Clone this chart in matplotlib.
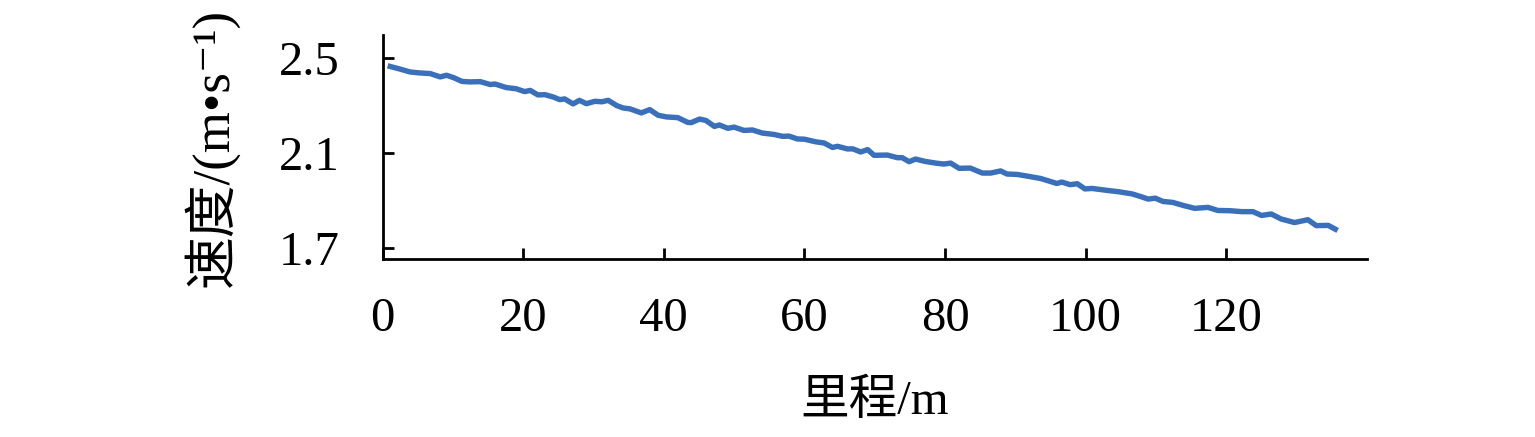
import matplotlib
matplotlib.use("Agg")
import matplotlib.pyplot as plt

# mileage (m) and speed (m/s)
mileage = [1.1, 2.5, 3.9, 5.2, 6.8, 8.2, 9.1, 10.1, 11.3, 12.4, 13.9, 15.3, 16.0,
           17.6, 19.0, 20.2, 21.0, 22.1, 23.1, 24.3, 25.2, 25.9, 27.1, 28.0, 29.0,
           30.2, 31.2, 32.1, 33.3, 34.2, 35.2, 36.8, 38.0, 39.2, 40.4, 42.0, 43.4,
           43.9, 45.1, 46.0, 47.2, 47.9, 49.1, 50.0, 51.4, 52.6, 54.0, 55.7, 56.9,
           57.8, 59.0, 60.0, 61.6, 62.8, 64.0, 64.7, 66.1, 66.9, 68.0, 69.0, 69.9,
           71.8, 73.2, 73.9, 74.9, 75.8, 77.2, 78.7, 79.8, 80.8, 82.0, 83.6, 85.3,
           86.5, 87.9, 88.8, 90.3, 91.9, 93.6, 94.7, 95.9, 96.6, 97.8, 98.8, 99.9,
           100.9, 103.0, 104.7, 106.6, 108.0, 108.9, 109.9, 111.0, 112.4, 113.9,
           115.5, 117.4, 118.8, 120.5, 122.2, 123.8, 125.0, 126.4, 127.8, 129.7,
           131.6, 132.8, 134.5, 135.5]
speed = [2.465, 2.454, 2.442, 2.438, 2.435, 2.421, 2.428, 2.418, 2.402, 2.400, 2.401,
         2.389, 2.391, 2.376, 2.371, 2.359, 2.364, 2.345, 2.346, 2.336, 2.325, 2.328,
         2.307, 2.322, 2.308, 2.318, 2.316, 2.322, 2.300, 2.290, 2.286, 2.269, 2.283,
         2.259, 2.252, 2.249, 2.229, 2.228, 2.243, 2.237, 2.212, 2.218, 2.204, 2.209,
         2.195, 2.197, 2.184, 2.178, 2.170, 2.171, 2.159, 2.158, 2.147, 2.142, 2.123,
         2.128, 2.117, 2.117, 2.104, 2.114, 2.090, 2.091, 2.080, 2.080, 2.063, 2.074,
         2.064, 2.057, 2.053, 2.057, 2.035, 2.036, 2.015, 2.015, 2.024, 2.011, 2.009,
         2.001, 1.992, 1.982, 1.971, 1.977, 1.966, 1.970, 1.948, 1.950, 1.942, 1.936,
         1.927, 1.914, 1.905, 1.909, 1.895, 1.891, 1.878, 1.866, 1.870, 1.857, 1.856,
         1.852, 1.852, 1.836, 1.842, 1.821, 1.806, 1.818, 1.793, 1.794, 1.778]

xticks = [0, 20, 40, 60, 80, 100, 120]
yticks = [1.7, 2.1, 2.5]

fonts = ['Liberation Serif', 'Noto Sans CJK SC', 'DejaVu Serif']
plt.rcParams['font.family'] = fonts

fig = plt.figure(figsize=(15.35, 4.37), dpi=100)
ax = fig.add_axes([0.2492, 0.4073, 0.6413, 0.5126])

ax.plot(mileage, speed, color='#3a6fba', lw=3.9, solid_joinstyle='round')

ax.set_xlim(0, 140)
ax.set_ylim(1.652, 2.598)
ax.set_xticks(xticks)
ax.set_yticks(yticks)
ax.set_yticklabels([f"{v:.1f}" for v in yticks])
ax.tick_params(direction='in', length=8, width=2, labelsize=35)
ax.tick_params(axis='x', pad=27)
ax.tick_params(axis='y', pad=31)

for side in ['top', 'right']:
    ax.spines[side].set_visible(False)
for side in ['left', 'bottom']:
    ax.spines[side].set_linewidth(2)

ax.set_xlabel('里程/m', fontsize=35)
ax.set_ylabel('速度/(m•s⁻¹)', fontsize=38)
ax.xaxis.set_label_coords(0.5, -0.54)
ax.yaxis.set_label_coords(-0.146, 0.5)

plt.savefig('out.png', dpi=100)
